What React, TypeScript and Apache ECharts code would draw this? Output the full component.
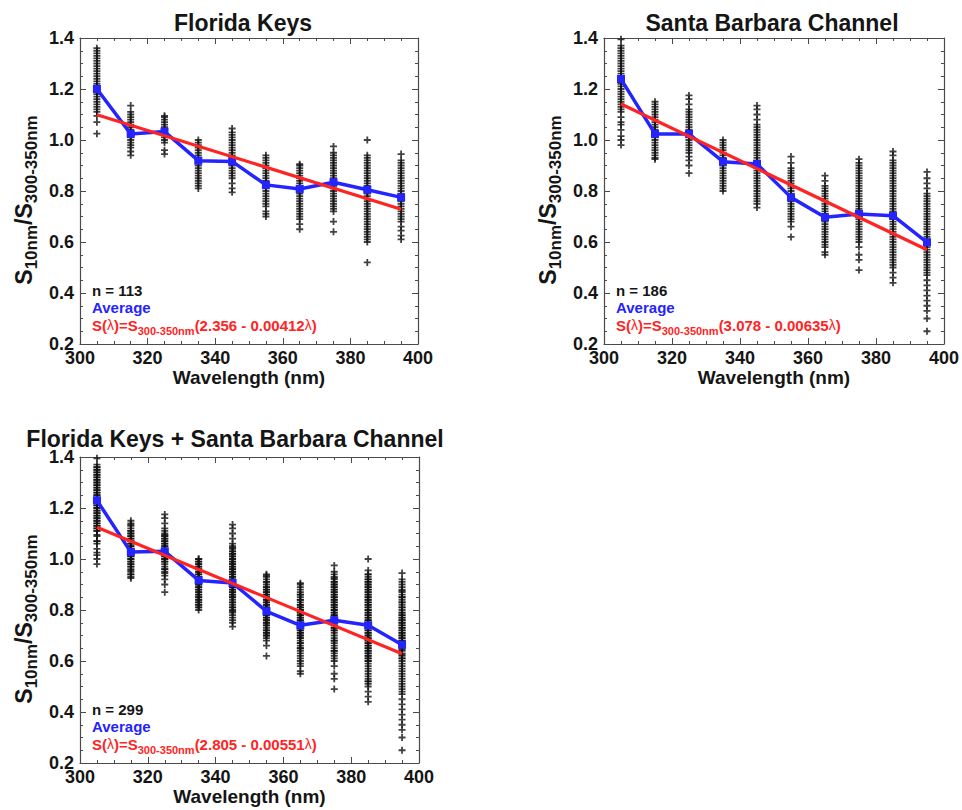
import React, { useEffect, useRef } from "react";
import * as echarts from "echarts";

const FONT = "'Liberation Sans', Arial, Helvetica, sans-serif";

const wavelengths = [305, 315, 325, 335, 345, 355, 365, 375, 385, 395];

// Florida Keys scatter columns (one array per wavelength)
const fk305 = [1.36, 1.35, 1.34, 1.33, 1.32, 1.31, 1.3, 1.29, 1.28, 1.27, 1.26, 1.25, 1.24, 1.23, 1.22, 1.21, 1.2, 1.19, 1.18, 1.17, 1.16, 1.15, 1.14, 1.13, 1.12, 1.11, 1.095, 1.07, 1.025];
const fk315 = [1.135, 1.11, 1.1, 1.09, 1.08, 1.07, 1.06, 1.05, 1.04, 1.03, 1.02, 1.01, 1.0, 0.99, 0.98, 0.97, 0.955, 0.94];
const fk325 = [1.095, 1.09, 1.08, 1.07, 1.06, 1.05, 1.04, 1.03, 1.02, 1.01, 1.0, 0.99, 0.96, 0.945];
const fk335 = [1.0, 0.99, 0.98, 0.97, 0.96, 0.95, 0.94, 0.93, 0.92, 0.91, 0.9, 0.89, 0.88, 0.87, 0.86, 0.85, 0.84, 0.83, 0.82, 0.81];
const fk345 = [1.045, 1.03, 1.02, 1.01, 1.0, 0.99, 0.98, 0.97, 0.96, 0.95, 0.94, 0.93, 0.92, 0.91, 0.9, 0.89, 0.88, 0.87, 0.86, 0.85, 0.83, 0.81, 0.795];
const fk355 = [0.94, 0.93, 0.92, 0.91, 0.9, 0.89, 0.88, 0.87, 0.86, 0.85, 0.84, 0.83, 0.82, 0.81, 0.8, 0.79, 0.78, 0.77, 0.76, 0.75, 0.74, 0.72, 0.71, 0.7];
const fk365 = [0.905, 0.9, 0.89, 0.88, 0.87, 0.86, 0.85, 0.84, 0.83, 0.82, 0.81, 0.8, 0.79, 0.78, 0.77, 0.76, 0.75, 0.74, 0.73, 0.72, 0.71, 0.7, 0.69, 0.67, 0.65];
const fk375 = [0.975, 0.95, 0.94, 0.93, 0.92, 0.91, 0.9, 0.89, 0.88, 0.87, 0.86, 0.85, 0.84, 0.83, 0.82, 0.81, 0.8, 0.79, 0.78, 0.77, 0.76, 0.75, 0.74, 0.73, 0.72, 0.68, 0.64];
const fk385 = [1.0, 0.94, 0.93, 0.92, 0.91, 0.9, 0.89, 0.88, 0.87, 0.86, 0.85, 0.84, 0.83, 0.82, 0.81, 0.8, 0.79, 0.78, 0.77, 0.76, 0.75, 0.74, 0.73, 0.72, 0.71, 0.7, 0.69, 0.68, 0.67, 0.66, 0.65, 0.64, 0.63, 0.62, 0.61, 0.6, 0.52];
const fk395 = [0.945, 0.92, 0.91, 0.9, 0.89, 0.88, 0.87, 0.86, 0.85, 0.84, 0.83, 0.82, 0.81, 0.8, 0.79, 0.78, 0.77, 0.76, 0.75, 0.74, 0.73, 0.72, 0.71, 0.7, 0.69, 0.68, 0.66, 0.645, 0.625, 0.61];

// Santa Barbara Channel scatter columns
const sb305 = [1.395, 1.37, 1.36, 1.35, 1.34, 1.33, 1.32, 1.31, 1.3, 1.29, 1.28, 1.27, 1.26, 1.25, 1.24, 1.23, 1.22, 1.21, 1.2, 1.19, 1.18, 1.17, 1.16, 1.15, 1.14, 1.13, 1.12, 1.11, 1.09, 1.07, 1.06, 1.04, 1.015, 1.0, 0.98];
const sb315 = [1.15, 1.14, 1.13, 1.12, 1.11, 1.1, 1.09, 1.08, 1.07, 1.06, 1.05, 1.04, 1.03, 1.02, 1.01, 1.0, 0.99, 0.98, 0.97, 0.96, 0.95, 0.94, 0.93, 0.925];
const sb325 = [1.175, 1.16, 1.14, 1.12, 1.11, 1.1, 1.09, 1.08, 1.07, 1.06, 1.05, 1.04, 1.03, 1.02, 1.01, 1.0, 0.99, 0.98, 0.97, 0.96, 0.95, 0.935, 0.92, 0.9, 0.87];
const sb335 = [1.0, 0.99, 0.98, 0.97, 0.96, 0.95, 0.94, 0.93, 0.92, 0.91, 0.9, 0.89, 0.88, 0.87, 0.86, 0.85, 0.84, 0.83, 0.82, 0.81, 0.8];
const sb345 = [1.135, 1.12, 1.1, 1.08, 1.06, 1.05, 1.04, 1.03, 1.02, 1.01, 1.0, 0.99, 0.98, 0.97, 0.96, 0.95, 0.94, 0.93, 0.92, 0.91, 0.9, 0.89, 0.88, 0.87, 0.86, 0.85, 0.84, 0.83, 0.82, 0.81, 0.8, 0.79, 0.78, 0.77, 0.76, 0.75, 0.735];
const sb355 = [0.935, 0.91, 0.89, 0.88, 0.87, 0.86, 0.85, 0.84, 0.83, 0.82, 0.81, 0.8, 0.79, 0.78, 0.77, 0.76, 0.75, 0.74, 0.73, 0.72, 0.71, 0.7, 0.69, 0.68, 0.66, 0.62];
const sb365 = [0.86, 0.84, 0.82, 0.81, 0.8, 0.79, 0.78, 0.77, 0.76, 0.75, 0.74, 0.73, 0.72, 0.71, 0.7, 0.69, 0.68, 0.67, 0.66, 0.65, 0.64, 0.63, 0.62, 0.61, 0.6, 0.59, 0.58, 0.56, 0.55];
const sb375 = [0.925, 0.91, 0.9, 0.89, 0.88, 0.87, 0.86, 0.85, 0.84, 0.83, 0.82, 0.81, 0.8, 0.79, 0.78, 0.77, 0.76, 0.75, 0.74, 0.73, 0.72, 0.71, 0.7, 0.69, 0.68, 0.67, 0.66, 0.65, 0.64, 0.63, 0.62, 0.61, 0.6, 0.58, 0.55, 0.53, 0.49];
const sb385 = [0.955, 0.94, 0.92, 0.91, 0.9, 0.89, 0.88, 0.87, 0.86, 0.85, 0.84, 0.83, 0.82, 0.81, 0.8, 0.79, 0.78, 0.77, 0.76, 0.75, 0.74, 0.73, 0.72, 0.71, 0.7, 0.69, 0.68, 0.67, 0.66, 0.65, 0.64, 0.63, 0.62, 0.61, 0.6, 0.59, 0.58, 0.57, 0.56, 0.55, 0.54, 0.53, 0.52, 0.51, 0.5, 0.48, 0.46, 0.44];
const sb395 = [0.875, 0.85, 0.83, 0.81, 0.79, 0.78, 0.77, 0.76, 0.75, 0.74, 0.73, 0.72, 0.71, 0.7, 0.69, 0.68, 0.67, 0.66, 0.65, 0.64, 0.63, 0.62, 0.61, 0.6, 0.59, 0.58, 0.57, 0.56, 0.55, 0.54, 0.53, 0.52, 0.51, 0.5, 0.49, 0.48, 0.47, 0.45, 0.43, 0.41, 0.39, 0.37, 0.35, 0.33, 0.3, 0.25];

const fkColumns = [fk305, fk315, fk325, fk335, fk345, fk355, fk365, fk375, fk385, fk395];
const sbColumns = [sb305, sb315, sb325, sb335, sb345, sb355, sb365, sb375, sb385, sb395];

// averages (blue)
const fkAverage = [1.2, 1.024, 1.033, 0.919, 0.916, 0.824, 0.808, 0.834, 0.805, 0.775];
const sbAverage = [1.239, 1.024, 1.024, 0.915, 0.906, 0.775, 0.697, 0.71, 0.703, 0.599];
const allAverage = [1.23, 1.027, 1.03, 0.916, 0.906, 0.795, 0.74, 0.76, 0.74, 0.664];

// linear fits: S = a - b*lambda
const fkFit = [2.356, 0.00412];
const sbFit = [3.078, 0.00635];
const allFit = [2.805, 0.00551];

const titles = ["Florida Keys", "Santa Barbara Channel", "Florida Keys + Santa Barbara Channel"];
const counts = ["113", "186", "299"];
const fitTexts = ["2.356 - 0.00412", "3.078 - 0.00635", "2.805 - 0.00551"];

const grids = [
  { left: 80, top: 38, width: 338, height: 306 },
  { left: 604, top: 38, width: 341, height: 306 },
  { left: 80, top: 457, width: 339, height: 306 },
];

const AX = "#4a4a4a";
const TXT = "#151515";
const BLUE = "#2424ff";
const RED = "#ff2424";

function scatterData(cols: number[][]) {
  const out: number[][] = [];
  wavelengths.forEach((w, i) => cols[i].forEach((v) => out.push([w, v])));
  return out;
}

export default function App() {
  const ref = useRef<HTMLDivElement>(null);
  useEffect(() => {
    if (!ref.current) return;
    const chart = echarts.init(ref.current, undefined, { renderer: "svg" });

    const allColumns = fkColumns.map((c, i) => c.concat(sbColumns[i]));
    const panelCols = [fkColumns, sbColumns, allColumns];
    const panelAvg = [fkAverage, sbAverage, allAverage];
    const panelFit = [fkFit, sbFit, allFit];

    const xAxes: any[] = [];
    const yAxes: any[] = [];
    for (let pos = 0; pos < 2; pos++) {
      for (let i = 0; i < 3; i++) {
        const main = pos === 0;
        xAxes.push({
          type: "value",
          gridIndex: i,
          position: main ? "bottom" : "top",
          min: 300,
          max: 400,
          interval: 20,
          axisLine: { show: true, onZero: false, lineStyle: { color: AX, width: 1.2 } },
          axisTick: { show: true, inside: true, length: 6, lineStyle: { color: AX, width: 1 } },
          minorTick: { show: true, splitNumber: 4, length: 3, lineStyle: { color: AX, width: 1 } },
          splitLine: { show: false },
          axisLabel: {
            show: main,
            fontSize: 18,
            fontWeight: "bold",
            fontFamily: FONT,
            color: TXT,
            margin: 5,
          },
          name: main ? "Wavelength (nm)" : "",
          nameLocation: "middle",
          nameGap: 22,
          nameTextStyle: { fontSize: 19, fontWeight: "bold", fontFamily: FONT, color: TXT },
        });
        yAxes.push({
          type: "value",
          gridIndex: i,
          position: main ? "left" : "right",
          min: 0.2,
          max: 1.4,
          interval: 0.2,
          axisLine: { show: true, onZero: false, lineStyle: { color: AX, width: 1.2 } },
          axisTick: { show: true, inside: true, length: 6, lineStyle: { color: AX, width: 1 } },
          minorTick: { show: true, splitNumber: 4, length: 3, lineStyle: { color: AX, width: 1 } },
          splitLine: { show: false },
          axisLabel: {
            show: main,
            fontSize: 18,
            fontWeight: "bold",
            fontFamily: FONT,
            color: TXT,
            margin: 6,
            formatter: (v: number) => v.toFixed(1),
          },
        });
      }
    }

    const series: any[] = [];
    for (let i = 0; i < 3; i++) {
      series.push({
        type: "scatter",
        xAxisIndex: i,
        yAxisIndex: i,
        data: scatterData(panelCols[i]),
        symbol: "path://M0,5H10M5,0V10",
        symbolSize: 7,
        itemStyle: { color: "rgba(0,0,0,0)", borderColor: "#111", borderWidth: 1.8 },
        z: 2,
        silent: true,
      });
      series.push({
        type: "line",
        xAxisIndex: i,
        yAxisIndex: i,
        data: wavelengths.map((w, k) => [w, panelAvg[i][k]]),
        symbol: "rect",
        symbolSize: 8,
        itemStyle: { color: BLUE },
        lineStyle: { color: BLUE, width: 3.5 },
        z: 3,
      });
      const [a, b] = panelFit[i];
      const w0 = wavelengths[0];
      const w1 = wavelengths[wavelengths.length - 1];
      series.push({
        type: "line",
        xAxisIndex: i,
        yAxisIndex: i,
        data: [
          [w0, a - b * w0],
          [w1, a - b * w1],
        ],
        symbol: "none",
        lineStyle: { color: RED, width: 3.2 },
        z: 4,
      });
    }

    const graphic: any[] = [];
    const titlePos = [
      [243, 23],
      [772, 23],
      [235, 439],
    ];
    titles.forEach((t, i) => {
      graphic.push({
        type: "text",
        x: titlePos[i][0],
        y: titlePos[i][1],
        style: {
          text: t,
          fontSize: 23,
          fontWeight: "bold",
          fontFamily: FONT,
          fill: TXT,
          align: "center",
          verticalAlign: "middle",
        },
      });
    });

    grids.forEach((g, i) => {
      // y axis title
      graphic.push({
        type: "text",
        x: g.left - 54,
        y: g.top + 162,
        rotation: Math.PI / 2,
        style: {
          text: "{m|S}{s|10nm}{m|/S}{s|300-350nm}",
          align: "center",
          verticalAlign: "middle",
          rich: {
            m: { fontSize: 23, fontWeight: "bold", fontFamily: FONT, fill: TXT, lineHeight: 28, verticalAlign: "top" },
            s: { fontSize: 17, fontWeight: "bold", fontFamily: FONT, fill: TXT, lineHeight: 28, verticalAlign: "bottom" },
          },
        },
      });
      const ax = g.left + 12;
      const ay = g.top + 252;
      graphic.push({
        type: "text",
        x: ax,
        y: ay,
        style: {
          text: "n = " + counts[i],
          fontSize: 15,
          fontWeight: "bold",
          fontFamily: FONT,
          fill: TXT,
          align: "left",
          verticalAlign: "middle",
        },
      });
      graphic.push({
        type: "text",
        x: ax,
        y: ay + 17,
        style: {
          text: "Average",
          fontSize: 15,
          fontWeight: "bold",
          fontFamily: FONT,
          fill: BLUE,
          align: "left",
          verticalAlign: "middle",
        },
      });
      graphic.push({
        type: "text",
        x: ax,
        y: ay + 37,
        style: {
          text: "{r|S(}{l|λ}{r|)=S}{s|300-350nm}{r|(" + fitTexts[i] + "}{l|λ}{r|)}",
          align: "left",
          verticalAlign: "middle",
          rich: {
            r: { fontSize: 15, fontWeight: "bold", fontFamily: FONT, fill: RED, lineHeight: 18, verticalAlign: "top" },
            l: { fontSize: 14, fontWeight: "normal", fontFamily: FONT, fill: RED, lineHeight: 18, verticalAlign: "top" },
            s: { fontSize: 11, fontWeight: "bold", fontFamily: FONT, fill: RED, lineHeight: 18, verticalAlign: "bottom" },
          },
        },
      });
    });

    chart.setOption({
      animation: false,
      backgroundColor: "#ffffff",
      grid: grids.map((g) => ({ ...g, containLabel: false })),
      xAxis: xAxes,
      yAxis: yAxes,
      series,
      graphic,
    });
    return () => chart.dispose();
  }, []);

  return (
    <div
      ref={ref}
      style={{ position: "fixed", left: 0, top: 0, width: 962, height: 810, background: "#fff" }}
    />
  );
}
